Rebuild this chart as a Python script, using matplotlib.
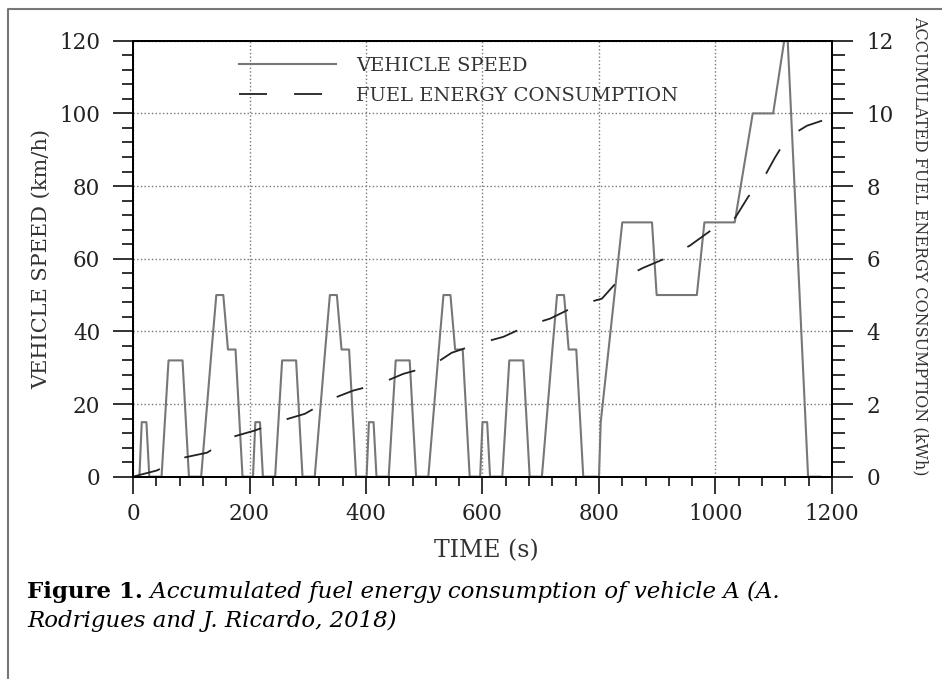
import matplotlib
matplotlib.use("Agg")
import matplotlib.pyplot as plt
from matplotlib.lines import Line2D
from matplotlib.ticker import MultipleLocator

plt.rcParams['font.family'] = ['DejaVu Serif']

# vehicle speed (NEDC cycle), time in s / speed in km/h
speed_t = [0, 11, 15, 23, 28, 49, 61, 85, 96, 117, 135, 143, 155, 163, 176, 188,
           206, 210, 218, 223, 244, 256, 280, 291, 312, 330, 338, 350, 358, 371, 383,
           401, 405, 413, 418, 439, 451, 475, 486, 507, 525, 533, 545, 553, 566, 578,
           596, 600, 608, 613, 634, 646, 670, 681, 702, 720, 728, 740, 748, 761, 773,
           800, 803, 840, 891, 899, 968, 981, 1033, 1064, 1099, 1118, 1124, 1159, 1180]
speed_v = [0, 0, 15, 15, 0, 0, 32, 32, 0, 0, 35, 50, 50, 35, 35, 0,
           0, 15, 15, 0, 0, 32, 32, 0, 0, 35, 50, 50, 35, 35, 0,
           0, 15, 15, 0, 0, 32, 32, 0, 0, 35, 50, 50, 35, 35, 0,
           0, 15, 15, 0, 0, 32, 32, 0, 0, 35, 50, 50, 35, 35, 0,
           0, 15, 70, 70, 50, 50, 70, 70, 100, 100, 120, 120, 0, 0]

# accumulated fuel energy (kWh)
fuel_t = [0, 41, 86, 127, 172, 209, 255, 295, 338, 378, 424, 464, 513, 547, 593, 636,
          678, 716, 762, 805, 833, 876, 913, 956, 994, 1034, 1056, 1082, 1102, 1123, 1157, 1183]
fuel_e = [0, 0.17, 0.52, 0.66, 1.10, 1.27, 1.54, 1.73, 2.12, 2.37, 2.56, 2.83, 3.05, 3.41, 3.66, 3.85,
          4.16, 4.35, 4.71, 4.90, 5.40, 5.75, 6.00, 6.36, 6.80, 7.13, 7.70, 8.20, 8.78, 9.33, 9.66, 9.80]

fig = plt.figure(figsize=(9.42, 6.79), dpi=100)
ax = fig.add_axes([0.1412, 0.298, 0.742, 0.642])
ax2 = ax.twinx()

l1, = ax.plot(speed_t, speed_v, color='#777777', lw=1.5, label='VEHICLE SPEED')
l2, = ax2.plot(fuel_t, fuel_e, color='#222222', lw=1.3, dashes=(15.5, 15),
               label='FUEL ENERGY CONSUMPTION')

ax.set_xlim(0, 1200)
ax.set_ylim(0, 120)
ax2.set_ylim(0, 12)
ax.xaxis.set_major_locator(MultipleLocator(200))
ax.xaxis.set_minor_locator(MultipleLocator(40))
ax.yaxis.set_major_locator(MultipleLocator(20))
ax.yaxis.set_minor_locator(MultipleLocator(4))
ax2.yaxis.set_major_locator(MultipleLocator(2))
ax2.yaxis.set_minor_locator(MultipleLocator(0.4))

ax.grid(True, which='major', linestyle=':', color='#777777', lw=1.0)

for a in (ax, ax2):
    for s in a.spines.values():
        s.set_linewidth(1.4)
ax.tick_params(which='both', direction='out', width=1.3, labelsize=15.5, colors='#222222')
ax.tick_params(axis='y', which='major', length=14.5, pad=9)
ax.tick_params(axis='y', which='minor', length=8)
ax.tick_params(axis='x', which='major', length=12, pad=7)
ax.tick_params(axis='x', which='minor', length=6.5)
ax2.tick_params(which='both', direction='out', width=1.3, labelsize=15.5, colors='#222222')
ax2.tick_params(which='major', length=15, pad=10)
ax2.tick_params(which='minor', length=9)

ax.set_xlabel('TIME (s)', fontsize=17, color='#333333')
ax.xaxis.set_label_coords(0.505, -0.143)
ax.set_ylabel('VEHICLE SPEED (km/h)', fontsize=15, color='#333333')
ax.yaxis.set_label_coords(-0.117, 0.5)
ax2.set_ylabel('ACCUMULATED FUEL ENERGY CONSUMPTION (kWh)', fontsize=11.5,
               rotation=-90, color='#333333')
ax2.yaxis.set_label_coords(1.139, 0.529)

ax2.legend(handles=[l1, l2], loc='upper left', bbox_to_anchor=(0.152, 0.963),
           frameon=False, fontsize=14, handlelength=5.0, handletextpad=1.0,
           borderpad=0, borderaxespad=0, labelspacing=0.6, labelcolor='#333333')

# page frame (top and left edges only)
fig.add_artist(Line2D([0.0085, 0.0085, 1.0], [0.0, 0.9867, 0.9867],
                      color='#777777', lw=1.5))

# caption
t1 = fig.text(0.0287, 0.119, 'Figure 1.', fontsize=16.5, fontweight='bold', va='baseline')
ax.annotate(' Accumulated fuel energy consumption of vehicle A (A.', xy=(1, 0),
            xycoords=t1, fontsize=16.5, style='italic', va='bottom', annotation_clip=False)
fig.text(0.0287, 0.0766, 'Rodrigues and J. Ricardo, 2018)', fontsize=16.5,
         style='italic', va='baseline')

fig.savefig('out.png', dpi=100)
